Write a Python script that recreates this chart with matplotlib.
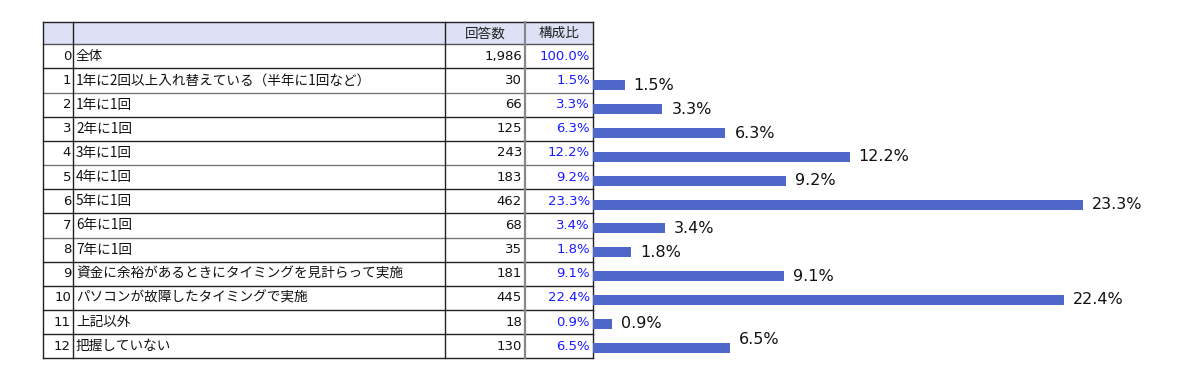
import matplotlib
matplotlib.use("Agg")
import matplotlib.pyplot as plt
from matplotlib.patches import Rectangle

plt.rcParams['font.family'] = ['Noto Sans CJK JP', 'DejaVu Sans']

# data
idx = list(range(13))
labels = ['全体',
          '1年に2回以上入れ替えている（半年に1回など）',
          '1年に1回', '2年に1回', '3年に1回', '4年に1回', '5年に1回',
          '6年に1回', '7年に1回',
          '資金に余裕があるときにタイミングを見計らって実施',
          'パソコンが故障したタイミングで実施',
          '上記以外', '把握していない']
counts = [1986, 30, 66, 125, 243, 183, 462, 68, 35, 181, 445, 18, 130]
ratios = [100.0, 1.5, 3.3, 6.3, 12.2, 9.2, 23.3, 3.4, 1.8, 9.1, 22.4, 0.9, 6.5]
headers = ['', '', '回答数', '構成比']

W, H = 1200, 378
fig = plt.figure(figsize=(W / 100, H / 100), dpi=100)

# table drawn in pixel coordinates
tab = fig.add_axes([0, 0, 1, 1])
tab.set_xlim(0, W)
tab.set_ylim(H, 0)
tab.axis('off')

cols = [43, 73, 445, 525, 593]
top, head_bot, row_h = 22.3, 44.3, 24.15
bottom = head_bot + row_h * len(idx)

tab.add_patch(Rectangle((cols[0], top), cols[-1] - cols[0], head_bot - top,
                        facecolor='#dce1f5', edgecolor='none'))
for i, h in enumerate(headers):
    if h:
        tab.text((cols[i] + cols[i + 1]) / 2, (top + head_bot) / 2, h,
                 ha='center', va='center', fontsize=9.8, color='#222222')

num = dict(fontsize=9.5, family='DejaVu Sans', va='center', ha='right')
for r in idx:
    yc = head_bot + row_h * (r + 0.5)
    tab.text(cols[1] - 2, yc, str(r), color='#111111', **num)
    tab.text(cols[1] + 3, yc, labels[r], ha='left', va='center', fontsize=9.8, color='#111111')
    tab.text(cols[3] - 3, yc, f'{counts[r]:,}', color='#111111', **num)
    tab.text(cols[4] - 3, yc, f'{ratios[r]:.1f}%', color='#1a1aff', **num)

# grid lines
tab.plot([cols[0], cols[-1]], [top, top], color='#222222', lw=1)
tab.plot([cols[0], cols[-1]], [head_bot, head_bot], color='#555555', lw=1)
for r in idx:
    y = head_bot + row_h * (r + 1)
    c = '#222222' if r in (0, 2, 3, 5, 6, 8, 9, 10, 11, 12) else '#777777'
    tab.plot([cols[0], cols[-1]], [y, y], color=c, lw=1)
for i, x in enumerate(cols):
    c = '#888888' if i == 3 else '#222222'
    tab.plot([x, x], [top, bottom], color=c, lw=1.6 if i == 3 else 1)

# bar chart
px_per_pct = 21.03
bar_top_px, bar_step = 85.3, 23.85
ax = fig.add_axes([cols[-1] / W, 1 - (bar_top_px + bar_step * 11.5) / H,
                   (W - cols[-1]) / W, bar_step * 12 / H])
pos = idx[1:]
vals = ratios[1:]
ax.barh(pos, vals, height=10 / bar_step, color='#4f67c8')
ax.set_ylim(12.5, 0.5)
ax.set_xlim(0, (W - cols[-1]) / px_per_pct)
ax.axis('off')
for p, v in zip(pos, vals):
    dy = -0.36 if p == 12 else 0
    ax.text(v + 9 / px_per_pct, p + dy, f'{v:.1f}%', ha='left', va='center',
            fontsize=11.5, family='DejaVu Sans', color='#111111')

fig.savefig('out.png', dpi=100)
